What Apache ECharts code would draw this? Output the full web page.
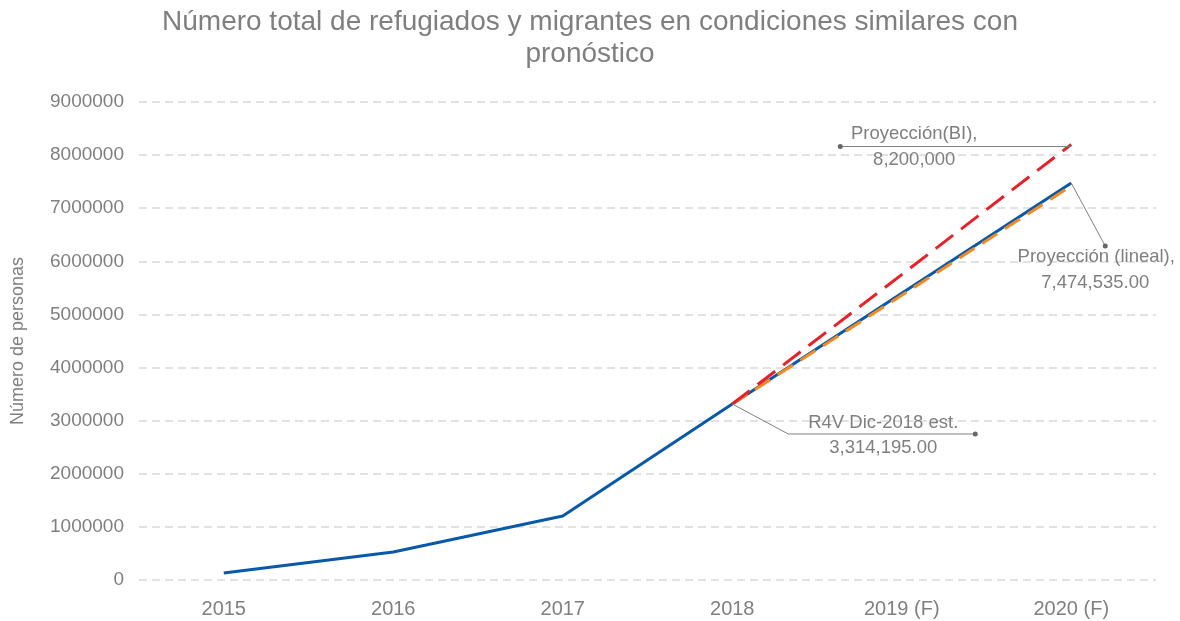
<!DOCTYPE html>
<html>
<head>
<meta charset="utf-8">
<script src="https://cdn.jsdelivr.net/npm/echarts@6/dist/echarts.min.js"></script>
<style>
  html, body { margin: 0; padding: 0; background: #fff; }
  #chart { width: 1180px; height: 621px; }
</style>
</head>
<body>
<div id="chart"></div>
<script>
// Years on the x axis
const years = ['2015', '2016', '2017', '2018', '2019 (F)', '2020 (F)'];

// Total of refugees and migrants (actual + linear projection)
const totalValues = [130000, 527000, 1205000, 3314195, 5400000, 7474535];
// Linear trend projection (orange dashed)
const linearValues = [null, null, null, 3314195, 5360000, 7420000];
// BI projection (red dashed)
const biValues = [null, null, null, 3314195, 5750000, 8200000];

const yTicks = { min: 0, max: 9000000, interval: 1000000 };

const grey = '#7f7f7f';
const font = 'Liberation Sans, Arial, sans-serif';

const chart = echarts.init(document.getElementById('chart'));

const option = {
  animation: false,
  backgroundColor: '#fff',
  title: {
    text: 'Número total de refugiados y migrantes en condiciones similares con\npronóstico',
    left: 585,
    textAlign: 'center',
    top: 1,
    textStyle: {
      color: grey,
      fontFamily: font,
      fontWeight: 'normal',
      fontSize: 28,
      lineHeight: 32,
    },
  },
  grid: {
    left: 139,
    right: 24,
    top: 102,
    bottom: 41,
  },
  xAxis: {
    type: 'category',
    data: years,
    boundaryGap: true,
    axisLine: { show: false },
    axisTick: { show: false },
    axisLabel: {
      color: grey,
      fontFamily: font,
      fontSize: 20,
      margin: 19,
    },
  },
  yAxis: {
    type: 'value',
    min: yTicks.min,
    max: yTicks.max,
    interval: yTicks.interval,
    name: 'Número de personas',
    nameLocation: 'middle',
    nameGap: 112,
    nameTextStyle: {
      color: grey,
      fontFamily: font,
      fontSize: 18,
    },
    axisLine: { show: false },
    axisTick: { show: false },
    axisLabel: {
      color: grey,
      fontFamily: font,
      fontSize: 19,
      margin: 15,
      formatter: (v) => String(v),
    },
    splitLine: {
      lineStyle: {
        color: '#d9d9d9',
        width: 1.5,
        type: [8, 5],
      },
    },
  },
  series: [
    {
      name: 'Total',
      type: 'line',
      data: totalValues,
      symbol: 'none',
      z: 2,
      lineStyle: { color: '#0a59a8', width: 3 },
    },
    {
      name: 'Proyección (lineal)',
      type: 'line',
      data: linearValues,
      symbol: 'none',
      z: 3,
      lineStyle: { color: '#f28a24', width: 3, type: [18, 9] },
    },
    {
      name: 'Proyección(BI)',
      type: 'line',
      data: biValues,
      symbol: 'none',
      z: 4,
      lineStyle: { color: '#e8202a', width: 3, type: [22, 10] },
    },
  ],
};

chart.setOption(option);

// Callout annotations anchored to data points through the chart's scales
function px(seriesIndex, idx, value) {
  return chart.convertToPixel({ seriesIndex: seriesIndex }, [idx, value]);
}

const textStyle = (txt, x, y, align) => ({
  type: 'text',
  x: x,
  y: y,
  z: 100,
  style: {
    text: txt,
    fill: grey,
    font: '18.5px ' + font,
    align: align || 'center',
    verticalAlign: 'middle',
  },
});

const lineColor = '#808080';
const graphics = [];

// Proyección(BI) at 2020
const pBI = px(2, 5, biValues[5]);
graphics.push({
  type: 'polyline', z: 100,
  shape: { points: [[pBI[0], pBI[1] + 2], [pBI[0] - 231, pBI[1] + 2]] },
  style: { stroke: lineColor, lineWidth: 1, fill: null },
});
graphics.push({ type: 'circle', z: 100, shape: { cx: pBI[0] - 231, cy: pBI[1] + 2, r: 2.5 }, style: { fill: '#666' } });
graphics.push(textStyle('Proyección(BI),', pBI[0] - 157, pBI[1] - 11));
graphics.push(textStyle('8,200,000', pBI[0] - 157, pBI[1] + 15));

// Proyección (lineal) at 2020
const pLin = px(0, 5, totalValues[5]);
graphics.push({
  type: 'polyline', z: 100,
  shape: { points: [[pLin[0], pLin[1]], [pLin[0] + 34, pLin[1] + 63]] },
  style: { stroke: lineColor, lineWidth: 1, fill: null },
});
graphics.push({ type: 'circle', z: 100, shape: { cx: pLin[0] + 34, cy: pLin[1] + 63, r: 2.5 }, style: { fill: '#666' } });
graphics.push(textStyle('Proyección (lineal),', pLin[0] + 25, pLin[1] + 74));
graphics.push(textStyle('7,474,535.00', pLin[0] + 24, pLin[1] + 100));

// R4V estimate at 2018
const pR4V = px(0, 3, totalValues[3]);
graphics.push({
  type: 'polyline', z: 100,
  shape: { points: [[pR4V[0], pR4V[1]], [pR4V[0] + 56, pR4V[1] + 30], [pR4V[0] + 243, pR4V[1] + 30]] },
  style: { stroke: lineColor, lineWidth: 1, fill: null },
});
graphics.push({ type: 'circle', z: 100, shape: { cx: pR4V[0] + 243, cy: pR4V[1] + 30, r: 2.5 }, style: { fill: '#666' } });
graphics.push(textStyle('R4V Dic-2018 est.', pR4V[0] + 151, pR4V[1] + 19));
graphics.push(textStyle('3,314,195.00', pR4V[0] + 151, pR4V[1] + 44));

chart.setOption({ graphic: graphics });
</script>
</body>
</html>
